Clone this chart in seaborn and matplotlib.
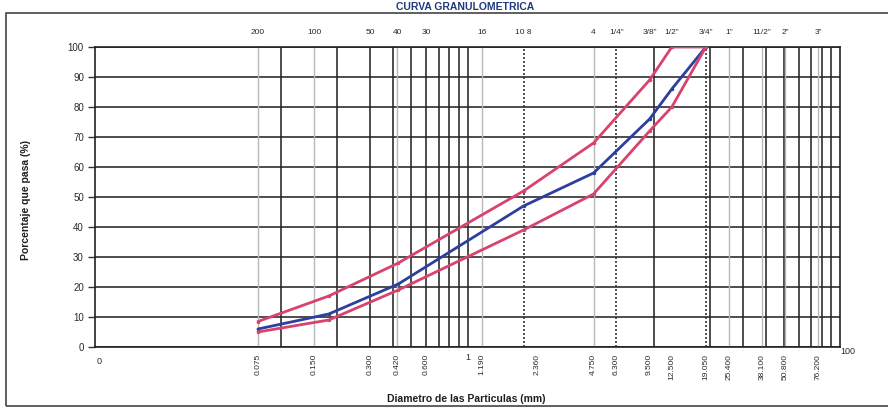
import numpy as np
import pandas as pd
import matplotlib
matplotlib.use("Agg")
import matplotlib.pyplot as plt
import seaborn as sns
from matplotlib.transforms import blended_transform_factory
from matplotlib.patches import Rectangle

# ---- data ----
tamiz_mm = [19.05, 12.5, 9.5, 4.75, 2.0, 0.425, 0.18, 0.075]
muestra = [100, 86, 76, 58, 47, 21, 11, 6]
limite_sup = [100, 100, 89, 68, 52, 28, 17, 8.5]
limite_inf = [100, 80, 72, 51, 39, 19, 9, 5]

top_names = ["200", "100", "50", "40", "30", "16", "10 8", "4", "1/4\"", "3/8\"",
             "1/2\"", "3/4\"", "1\"", "11/2\"", "2\"", "3\""]
top_pos = [0.075, 0.15, 0.3, 0.42, 0.6, 1.19, 2.0, 4.75, 6.3, 9.5,
           12.5, 19.05, 25.4, 38.1, 50.8, 76.2]
bottom_labels = ["0.075", "0.150", "0.300", "0.420", "0.600", "1.190", "2.360", "4.750",
                 "6.300", "9.500", "12.500", "19.050", "25.400", "38.100", "50.800", "76.200"]
bottom_pos = [0.075, 0.15, 0.3, 0.42, 0.6, 1.19, 2.36, 4.75,
              6.3, 9.5, 12.5, 19.05, 25.4, 38.1, 50.8, 76.2]
y_ticks = [0, 10, 20, 30, 40, 50, 60, 70, 80, 90, 100]

dark_vlines = [0.1, 0.2, 0.3, 0.4, 0.5, 0.6, 0.7, 0.8, 0.9, 1.0,
               10, 20, 30, 40, 50, 60, 70, 80, 90]
light_vlines = [0.075, 0.15, 0.42, 1.19, 4.75, 25.4, 38.1, 50.8, 76.2]
dotted_vlines = [2.0, 6.3, 19.05]

df = pd.concat([
    pd.DataFrame({"mm": tamiz_mm, "pasa": muestra, "serie": "Muestra"}),
    pd.DataFrame({"mm": tamiz_mm, "pasa": limite_sup, "serie": "Sup"}),
    pd.DataFrame({"mm": tamiz_mm, "pasa": limite_inf, "serie": "Inf"}),
])

sns.set_theme(style="white")
plt.rcParams["font.family"] = ["Liberation Sans", "DejaVu Sans"]

W, H = 888, 412
fig = plt.figure(figsize=(W / 100, H / 100), dpi=100)
L, R, T, B = 95, 840, 47, 347
ax = fig.add_axes([L / W, (H - B) / H, (R - L) / W, (B - T) / H])

ax.set_xscale("log")
ax.set_xlim(0.01, 100)
ax.set_ylim(0, 100)

# grid
for v in y_ticks:
    ax.axhline(v, color="#262626", lw=1.15, zorder=1)
for v in dark_vlines:
    ax.axvline(v, color="#262626", lw=1.15, zorder=1)
for v in light_vlines:
    ax.axvline(v, color="#b8b8b8", lw=1.0, zorder=1)
for v in dotted_vlines:
    ax.axvline(v, color="#333333", lw=1.2, ls=(0, (1.2, 1.2)), zorder=1)

palette = {"Muestra": "#2c3f9c", "Sup": "#d8436c", "Inf": "#d8436c"}
sns.lineplot(data=df, x="mm", y="pasa", hue="serie", palette=palette,
             estimator=None, sort=True, lw=2.0, marker="o", markersize=2.5,
             markeredgewidth=0, legend=False, ax=ax, zorder=3)

ax.set_xlabel("")
ax.set_ylabel("")
ax.set_xticks([])
ax.xaxis.set_minor_locator(matplotlib.ticker.NullLocator())
ax.set_yticks(y_ticks)
ax.set_yticklabels([str(v) for v in y_ticks], fontsize=7, color="#2a2a2a")
ax.tick_params(axis="y", which="major", left=True, length=5, width=1, color="#333333", pad=3)
for s in ax.spines.values():
    s.set_color("#222222")
    s.set_linewidth(1.2)

tr = blended_transform_factory(ax.transData, fig.transFigure)
for name, pos in zip(top_names, top_pos):
    ax.text(pos, 1 - 32 / H, name, transform=tr, fontsize=6, color="#2a2a2a",
            ha="center", va="center")
for lab, pos in zip(bottom_labels, bottom_pos):
    ax.text(pos, 1 - 354 / H, lab, transform=tr, fontsize=6, color="#2a2a2a",
            ha="center", va="top", rotation=90)
for lab, pos, yp in [("0", 0.0105, 361), ("1", 1.0, 357), ("100", 100.0, 351)]:
    ax.text(pos, 1 - yp / H, lab, transform=tr, fontsize=6.5, color="#2a2a2a",
            ha="left" if lab == "100" else "center", va="center")

fig.text(466 / W, 1 - 399 / H, "Diametro de las Particulas (mm)", fontsize=7.5,
         fontweight="bold", ha="center", va="center", color="#1e1e1e")
fig.text(26 / W, 1 - 200 / H, "Porcentaje que pasa (%)", fontsize=7.5,
         fontweight="bold", ha="center", va="center", rotation=90, color="#1e1e1e")
fig.text(465 / W, 1 - 9.5 / H, "CURVA GRANULOMETRICA", fontsize=7.5,
         fontweight="bold", ha="center", va="baseline", color="#1f3a7a")

fig.patches.append(Rectangle((6 / W, (H - 406) / H), (W + 10) / W, (406 - 13) / H,
                             transform=fig.transFigure, fill=False,
                             edgecolor="#444444", lw=1.2))

fig.savefig("out.png", dpi=100)
